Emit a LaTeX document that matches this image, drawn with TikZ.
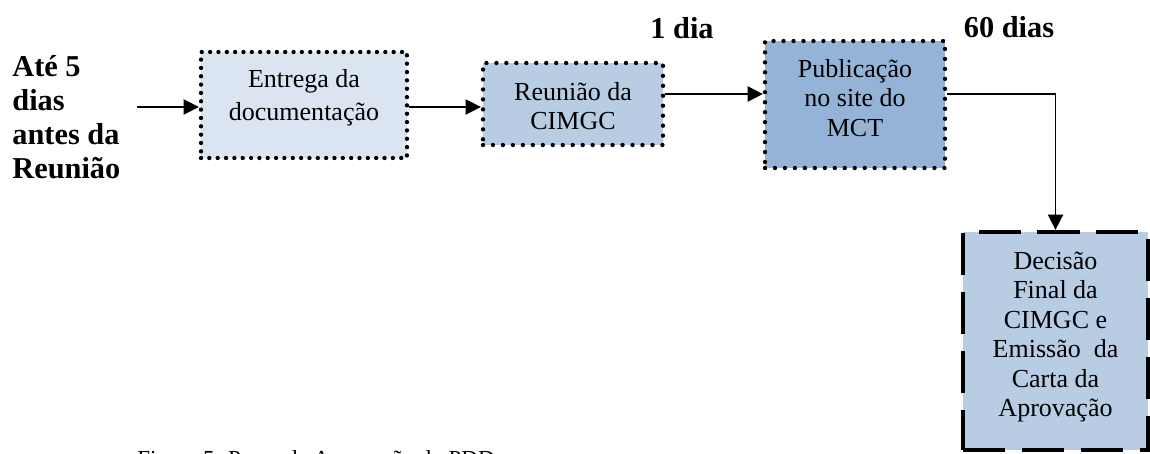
\documentclass[tikz,border=0pt]{standalone}
\usepackage{fontspec}
\setmainfont{Liberation Serif}
\usetikzlibrary{arrows.meta,fit,calc}
\definecolor{paleblue}{HTML}{DBE5F1}
\definecolor{midblue}{HTML}{B8CCE4}
\definecolor{deepblue}{HTML}{95B3D7}
\begin{document}
\begin{tikzpicture}[x=0.4615pt,y=-0.4615pt,
  dotbox/.style={rectangle, inner sep=0pt, draw=black, line width=2pt,
    dash pattern=on 0pt off 4.6pt, line cap=round},
  dashbox/.style={rectangle, inner sep=0pt, draw=black, line width=2pt,
    dash pattern=on 19.4pt off 7.8pt},
  boxtext/.style={align=center, inner sep=0pt, font=\fontsize{12}{13.6}\selectfont},
  daytext/.style={inner sep=0pt, font=\fontsize{14}{16}\selectfont\bfseries},
  arr/.style={line width=0.75pt, -{Triangle[length=7pt,width=7pt]}}
]
\useasboundingbox (0,0) rectangle (1150,453);
\clip (0,0) rectangle (1150,453);

% process steps
\node[dotbox, dash pattern=on 0pt off 3.85pt, fill=paleblue, fit={(201,52) (407,158)}] (entrega) {};
\node[dotbox, fill=midblue, fit={(483,63) (663,145)}] (reuniao) {};
\node[dotbox, fill=deepblue, fit={(765,41) (945,168)}] (publicacao) {};
\node[dashbox, fill=midblue, fit={(963,232) (1148,450)}] (decisao) {};

\node[boxtext, font=\fontsize{12}{15.2}\selectfont] (entregatext) at (304,98) {Entrega da\\documentação};
\node[boxtext] (reuniaotext) at (573,106) {Reunião da\\CIMGC};
\node[boxtext] (publicacaotext) at (855,98) {Publicação\\no site do\\MCT};
\node[boxtext] (decisaotext) at (1055.5,337) {Decisão\\Final da\\CIMGC e\\Emissão~ da\\Carta da\\Aprovação};

% deadlines
\node[anchor=west, align=left, inner sep=0pt, font=\fontsize{14}{15.8}\selectfont\bfseries]
  (prazo) at (12,117) {Até 5\\dias\\antes da\\Reunião};
\node[daytext, anchor=base] (umdia) at (682,38) {1 dia};
\node[daytext, anchor=base] (sessenta) at (1009,37) {60 dias};

% connectors
\coordinate (start) at (137,107);
\coordinate (upper) at (0,94);
\draw[arr] (start) -- (start -| entrega.west);
\draw[arr] (entrega.east |- start) -- (reuniao.west |- start);
\draw[arr] (reuniao.east |- upper) -- (publicacao.west |- upper);
\draw[arr] (publicacao.east |- upper) -| (decisao.north);

% caption, running past the lower edge
\node[anchor=base west, inner sep=0pt, font=\fontsize{10.6}{12}\selectfont]
  (legenda) at (137,466) {Figura 5. Prazo de Aprovação do PDD};
\end{tikzpicture}
\end{document}
